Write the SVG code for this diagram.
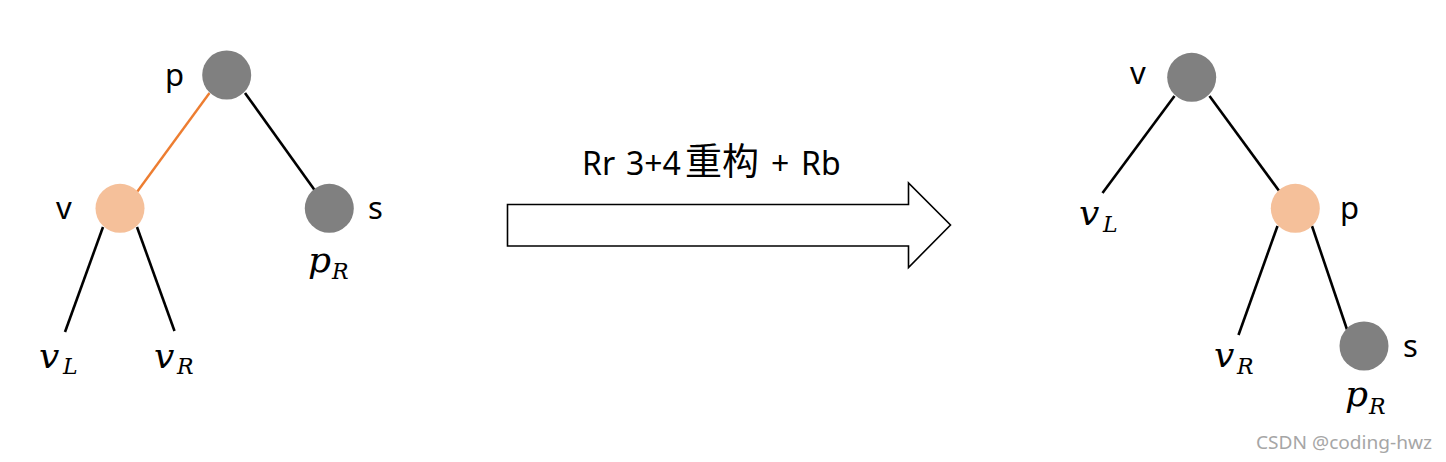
<svg xmlns="http://www.w3.org/2000/svg" width="1446" height="462" viewBox="0 0 1446 462">
<style>
.gray{fill:#808080}
.org{fill:#F5C09A}
.edge{stroke:#000;stroke-width:2.6;fill:none}
.oedge{stroke:#ED7D31;stroke-width:2.4;fill:none}
.lbl{font-family:"Noto Sans","Liberation Sans",sans-serif;font-size:31px;fill:#000}
.m{font-family:"DejaVu Serif","Liberation Serif",serif;font-style:italic;font-size:36px;fill:#000}
.sub{font-family:"DejaVu Serif","Liberation Serif",serif;font-style:italic;font-size:22px;fill:#000}
.title{font-family:"Noto Sans","Noto Sans CJK SC",sans-serif;font-size:32px;fill:#000}
.cjk{font-family:"Noto Sans CJK SC",sans-serif;font-size:37px}
</style>
<rect width="1446" height="462" fill="#fff"/>
<g id="connectors">
<line class="oedge" x1="209.5" y1="93" x2="137" y2="192"/>
<line class="edge" x1="245" y1="93" x2="316" y2="192"/>
<line class="edge" x1="103" y1="227" x2="65" y2="332"/>
<line class="edge" x1="137" y1="227" x2="174.5" y2="331"/>
<line class="edge" x1="1174.5" y1="96" x2="1102.5" y2="193"/>
<line class="edge" x1="1209.5" y1="96" x2="1281" y2="193.5"/>
<line class="edge" x1="1277.5" y1="226" x2="1238.5" y2="335"/>
<line class="edge" x1="1312" y1="226" x2="1347" y2="329.5"/>
</g>
<g id="left-p"><circle class="gray" cx="226.7" cy="75" r="24.5"/><text class="lbl" x="165" y="86">p</text></g>
<g id="left-v"><circle class="org" cx="120" cy="208.3" r="24.5"/><text class="lbl" x="56" y="219">v</text></g>
<g id="left-s"><circle class="gray" cx="329.3" cy="208.3" r="24.5"/><text class="lbl" x="368" y="219">s</text></g>
<g id="left-vL"><text class="m" x="39" y="368">v</text><text class="sub" x="63" y="374">L</text></g>
<g id="left-vR"><text class="m" x="154" y="368">v</text><text class="sub" x="177" y="374">R</text></g>
<g id="left-pR"><text class="m" x="308" y="272">p</text><text class="sub" x="332" y="279">R</text></g>
<g id="arrow">
<path d="M507.5,204.5 H908.5 V183 L950.5,225 L908.5,267.5 V246 H507.5 Z" fill="#fff" stroke="#000" stroke-width="1.6"/>
<text class="title" y="175"><tspan x="582">Rr</tspan><tspan x="626">3+4</tspan><tspan class="cjk" x="685">重构</tspan><tspan x="771">+</tspan><tspan x="801">Rb</tspan></text>
</g>
<g id="right-v"><circle class="gray" cx="1191.7" cy="77.3" r="24.5"/><text class="lbl" x="1130" y="84">v</text></g>
<g id="right-p"><circle class="org" cx="1295.3" cy="208.3" r="24.5"/><text class="lbl" x="1340" y="219">p</text></g>
<g id="right-s"><circle class="gray" cx="1364" cy="346" r="24.5"/><text class="lbl" x="1403" y="357">s</text></g>
<g id="right-vL"><text class="m" x="1079" y="225">v</text><text class="sub" x="1103" y="232">L</text></g>
<g id="right-vR"><text class="m" x="1214" y="367">v</text><text class="sub" x="1237" y="374">R</text></g>
<g id="right-pR"><text class="m" x="1345" y="406">p</text><text class="sub" x="1369" y="414">R</text></g>
<text x="1256" y="449" font-family="Noto Sans,Liberation Sans,sans-serif" font-size="18" fill="#a6a6a6" textLength="176" lengthAdjust="spacingAndGlyphs">CSDN @coding-hwz</text>
</svg>
